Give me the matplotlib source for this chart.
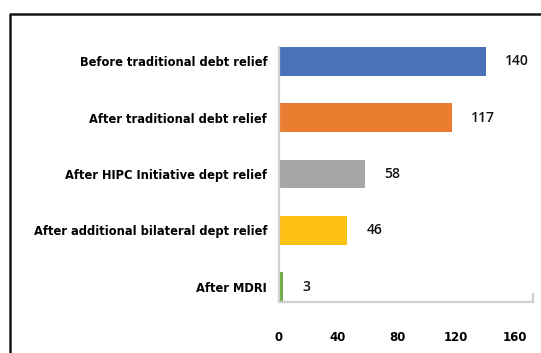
import matplotlib
matplotlib.use("Agg")
import matplotlib.pyplot as plt
from matplotlib.lines import Line2D

categories = ["Before traditional debt relief", "After traditional debt relief",
              "After HIPC Initiative dept relief", "After additional bilateral dept relief",
              "After MDRI"]
values = [140, 117, 58, 46, 3]
colors = ["#4A72B8", "#EB7D30", "#A6A6A6", "#FDC014", "#70AD47"]
xticks = [0, 40, 80, 120, 160]

W, H = 541, 353
fig = plt.figure(figsize=(W/100, H/100), dpi=100)
fig.patch.set_facecolor("white")

left, right, top, bottom = 279, 533, 47, 302
ax = fig.add_axes([left/W, 1 - bottom/H, (right-left)/W, (bottom-top)/H])

pos = list(range(len(values)))
bars = ax.barh(pos, values, height=0.51, color=colors, zorder=2)
ax.set_ylim(4.27, -0.255)
ax.set_xlim(0, 172)
ax.set_yticks(pos)
ax.set_yticklabels(categories, fontsize=8.3, fontweight="bold", family=["DejaVu Sans"])
ax.set_xticks(xticks)
ax.set_xticklabels([str(t) for t in xticks], fontsize=8.5, fontweight="bold", family=["DejaVu Sans"])
ax.tick_params(axis="y", length=0, pad=8.5)
ax.tick_params(axis="x", length=0, pad=21)
ax.bar_label(bars, labels=[str(v) for v in values], padding=14, fontsize=10,
             fontweight=600, family=["Open Sans", "DejaVu Sans"], color="#111111")

for s in ["top", "right"]:
    ax.spines[s].set_visible(False)
for s in ["left", "bottom"]:
    ax.spines[s].set_color("#D0D0D0")
    ax.spines[s].set_linewidth(1.6)
# small right-end tick of plot frame
ax.plot([1, 1], [0, 0.03], transform=ax.transAxes, color="#D0D0D0", lw=1.6, clip_on=False)

# outer black frame (partially visible)
fig.add_artist(Line2D([9.5/W, 9.5/W, 1.0], [0, 1 - 14/H, 1 - 14/H],
                      transform=fig.transFigure, color="#151515", lw=1.8))

fig.savefig("out.png", dpi=100)
